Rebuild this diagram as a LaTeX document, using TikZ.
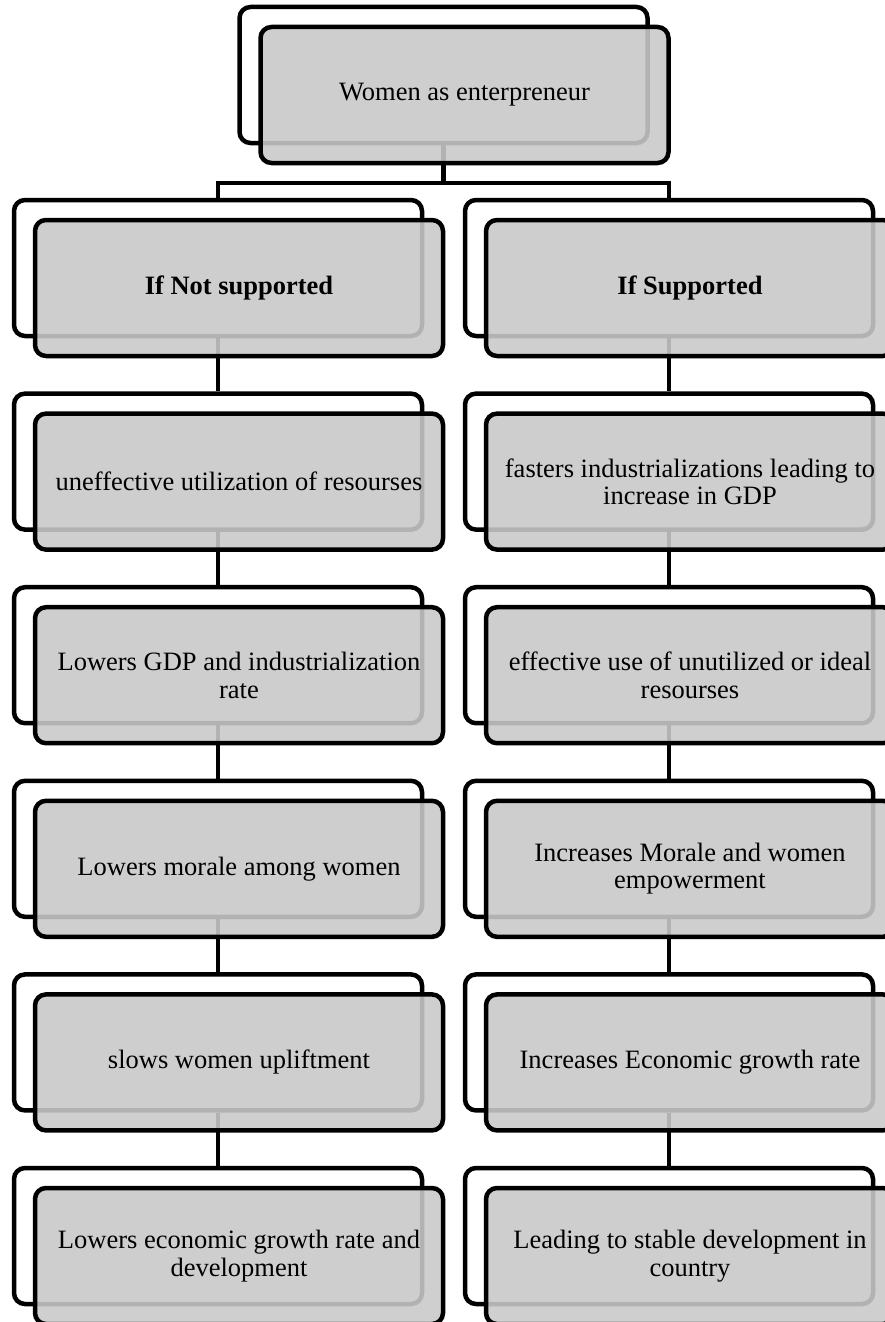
\documentclass[tikz,border=0pt]{standalone}
\usepackage{fontspec}
\setmainfont{Liberation Serif}
\begin{document}
\begin{tikzpicture}[x=1pt,y=-1pt,
  backbox/.style={draw=black, line width=4.5pt, rounded corners=11pt, fill=white,
    minimum width=408pt, minimum height=136pt, inner sep=0pt},
  frontbox/.style={draw=black, line width=4.5pt, rounded corners=11pt,
    fill=black!21, fill opacity=0.89, text opacity=1,
    minimum width=408pt, minimum height=136pt, inner sep=0pt,
    align=center, font=\fontsize{26.5}{27.5}\selectfont, xshift=21pt, yshift=-20pt},
  link/.style={draw=black, line width=4.5pt}]
\clip (0,0) rectangle (885,1322);
% back boxes
\node[backbox] (b0) at (443.5,75) {};
\foreach \i/\y in {1/268,2/461.6,3/655.2,4/848.8,5/1042.4,6/1236}{
  \node[backbox] (bL\i) at (218,\y) {};
  \node[backbox] (bR\i) at (669,\y) {};
}
% connectors
\coordinate (bar) at (0,183);
\draw[link] (b0.south) -- (b0.south |- bar) -| (bL1.north);
\draw[link] (b0.south) -- (b0.south |- bar) -| (bR1.north);
\foreach \i/\j in {1/2,2/3,3/4,4/5,5/6}{
  \draw[link] (bL\i.south) -- (bL\j.north);
  \draw[link] (bR\i.south) -- (bR\j.north);
}
% front boxes
\node[frontbox] (f0) at (b0.center) {Women as enterpreneur};
\node[frontbox] (fL1) at (bL1.center) {\textbf{If Not supported}};
\node[frontbox] (fL2) at (bL2.center) {uneffective utilization of resourses};
\node[frontbox] (fL3) at (bL3.center) {Lowers GDP and industrialization\\rate};
\node[frontbox] (fL4) at (bL4.center) {Lowers morale among women};
\node[frontbox] (fL5) at (bL5.center) {slows women upliftment};
\node[frontbox] (fL6) at (bL6.center) {Lowers economic growth rate and\\development};
\node[frontbox] (fR1) at (bR1.center) {\textbf{If Supported}};
\node[frontbox] (fR2) at (bR2.center) {fasters industrializations leading to\\increase in GDP};
\node[frontbox] (fR3) at (bR3.center) {effective use of unutilized or ideal\\resourses};
\node[frontbox] (fR4) at (bR4.center) {Increases Morale and women\\empowerment};
\node[frontbox] (fR5) at (bR5.center) {Increases Economic growth rate};
\node[frontbox] (fR6) at (bR6.center) {Leading to stable development in\\country};
\end{tikzpicture}
\end{document}
